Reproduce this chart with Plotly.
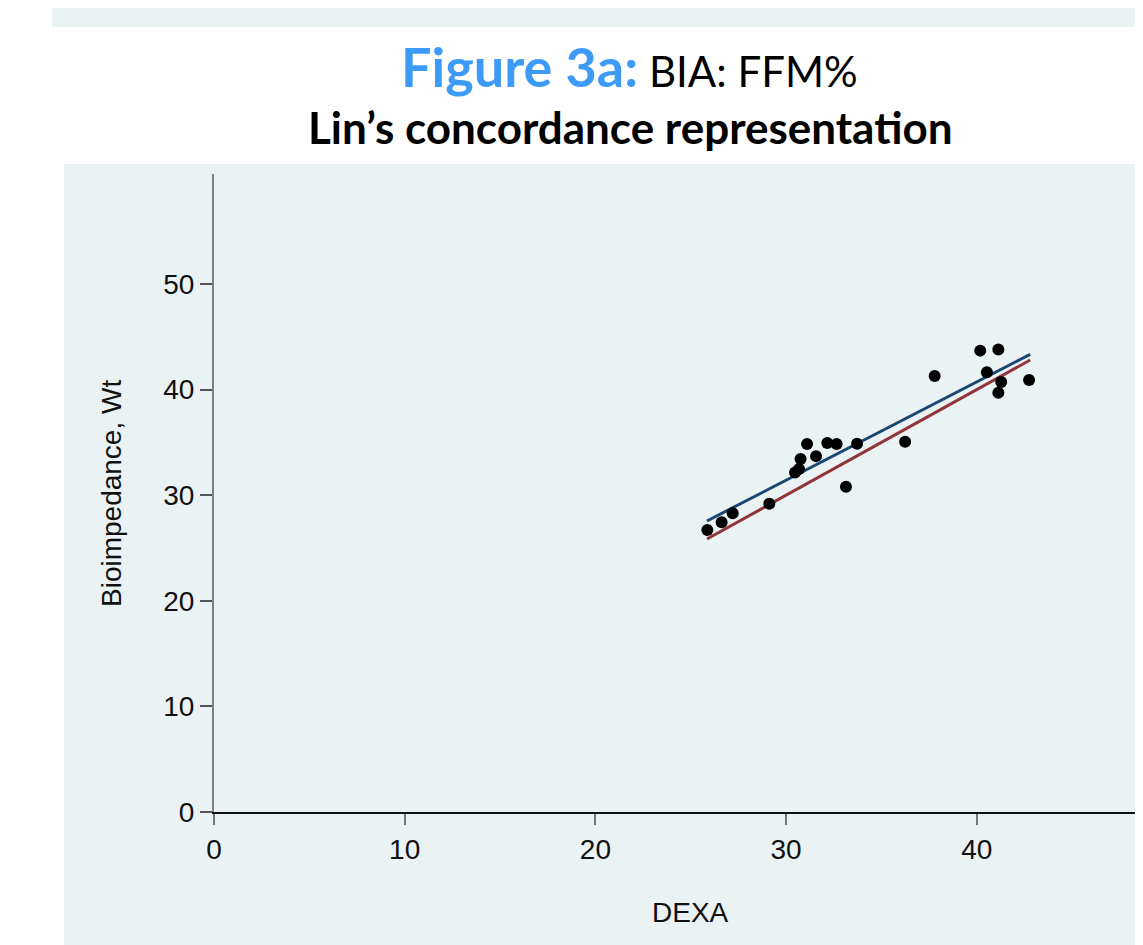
import plotly.graph_objects as go

# ---- data ----
dexa = [25.87, 26.62, 27.20, 29.12, 30.47, 30.68, 30.76, 31.10, 31.57, 32.16,
        32.65, 33.14, 33.72, 36.24, 37.79, 40.18, 41.13, 40.53, 41.28, 41.13, 42.74]
bia = [26.70, 27.43, 28.30, 29.20, 32.15, 32.48, 33.43, 34.85, 33.70, 34.94,
       34.85, 30.80, 34.87, 35.07, 41.29, 43.69, 43.80, 41.64, 40.72, 39.70, 40.90]

line_x = [25.85, 42.80]
rma_y = [27.56, 43.34]          # reduced major axis (concordance) line
perfect_y = [25.85, 42.80]      # line of perfect concordance (y = x)

x_ticks = [0, 10, 20, 30, 40]
y_ticks = [0, 10, 20, 30, 40, 50]

OFF = 8                      # page body margin
W, H = 1143 - OFF, 945 - OFF
L, R, T, B = 214 - OFF, 0, 174 - OFF, 133
PW, PH = W - L - R, H - T - B


def px(p):  # p = target-image x pixel
    return (p - OFF - L) / PW


def py(p):  # p = target-image y pixel
    return (H - B - (p - OFF)) / PH


BG = "#eaf2f3"
AX_FONT = dict(family="Liberation Sans, Arial, sans-serif", size=28, color="#111111")

fig = go.Figure()

fig.add_trace(go.Scatter(x=line_x, y=rma_y, mode="lines",
                         line=dict(color="#1a476f", width=3), showlegend=False))
fig.add_trace(go.Scatter(x=line_x, y=perfect_y, mode="lines",
                         line=dict(color="#90353b", width=3), showlegend=False))
fig.add_trace(go.Scatter(x=dexa, y=bia, mode="markers",
                         marker=dict(color="black", size=12), showlegend=False))

shapes = [
    # top band
    dict(type="rect", xref="paper", yref="paper", layer="below",
         x0=px(52), x1=px(1200), y0=py(27), y1=py(-20),
         fillcolor=BG, line=dict(width=0)),
    # plot-region band
    dict(type="rect", xref="paper", yref="paper", layer="below",
         x0=px(64), x1=px(1200), y0=py(1000), y1=py(164),
         fillcolor=BG, line=dict(width=0)),
]

annotations = [
    dict(xref="paper", yref="paper", x=px(629), y=py(66), xanchor="center", yanchor="middle",
         showarrow=False,
         text="<b><span style='color:#3d9bf7;font-size:54px'>Figure 3a:</span></b>"
              "<span style='font-size:42px'> BIA: FFM%</span>",
         font=dict(family="Lato, Open Sans, sans-serif", size=42, color="black")),
    dict(xref="paper", yref="paper", x=px(630), y=py(127), xanchor="center", yanchor="middle",
         showarrow=False,
         text="<b>Lin’s concordance representation</b>",
         font=dict(family="Lato, Open Sans, sans-serif", size=44, color="black")),
    dict(xref="paper", yref="paper", x=px(690), y=py(912), xanchor="center", yanchor="middle",
         showarrow=False, text="DEXA", font=AX_FONT),
    dict(xref="paper", yref="paper", x=px(112), y=py(494), xanchor="center", yanchor="middle",
         showarrow=False, text="Bioimpedance, Wt", textangle=-90, font=AX_FONT),
]

fig.update_layout(
    width=W, height=H,
    margin=dict(l=L, r=R, t=T, b=B, pad=0),
    paper_bgcolor="white",
    plot_bgcolor=BG,
    shapes=shapes,
    annotations=annotations,
    xaxis=dict(range=[0, PW / 19.07], tickvals=x_ticks, showgrid=False, zeroline=False,
               showline=True, linecolor="#111111", linewidth=2,
               ticks="outside", ticklen=11, tickwidth=2, tickcolor="#777777",
               tickfont=AX_FONT),
    yaxis=dict(range=[0, PH / 10.56], tickvals=y_ticks, showgrid=False, zeroline=False,
               showline=True, linecolor="#808080", linewidth=2,
               ticks="outside", ticklen=12, tickwidth=2, tickcolor="#555555",
               tickfont=AX_FONT),
)

fig.write_html("out.html")
